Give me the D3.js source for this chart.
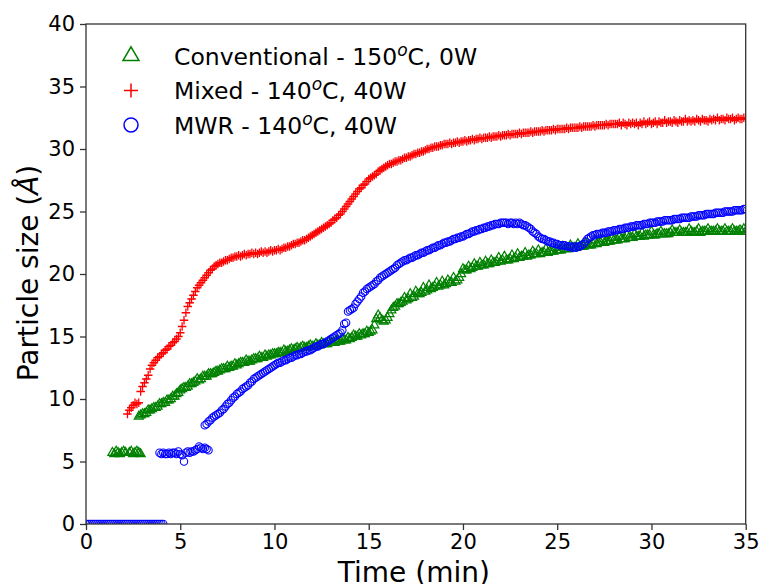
<!DOCTYPE html>
<html>
<head>
<meta charset="utf-8">
<script src="https://cdn.jsdelivr.net/npm/d3@7"></script>
<style>
  html, body { margin: 0; padding: 0; background: #fff; }
  svg { display: block; font-family: "DejaVu Sans", sans-serif; }
</style>
</head>
<body>
<svg id="chart" width="759" height="584"></svg>
<script>
const xTicks = [0, 5, 10, 15, 20, 25, 30, 35];
const yTicks = [0, 5, 10, 15, 20, 25, 30, 35, 40];
const seriesNames = ["Conventional - 150", "Mixed - 140", "MWR - 140"];
const seriesSuffix = ["C, 0W", "C, 40W", "C, 40W"];
const sampleStep = 0.1; // minutes between measurements

// Conventional - 150 C, 0 W (green triangles)
const convLowStart = 1.4;
const convLowSize = [5.7, 5.6, 5.8, 5.7, 5.6, 5.7, 5.8, 5.7];
const convLow2Start = 2.3;
const convLow2Size = [5.7, 5.8, 5.6, 5.7, 5.8, 5.7, 5.6];
const convStart = 2.8;
const convSize = [
  8.6, 8.7, 8.8, 8.8, 8.9, 9.1, 9.1, 9.2, 9.3, 9.3,
  9.4, 9.6, 9.6, 9.7, 9.7, 9.9, 9.9, 10.0, 10.2, 10.2,
  10.4, 10.5, 10.7, 10.8, 10.9, 10.9, 11.0, 11.2, 11.2, 11.3,
  11.4, 11.6, 11.5, 11.6, 11.8, 11.8, 11.8, 12.0, 12.0, 12.0,
  12.1, 12.2, 12.2, 12.3, 12.4, 12.4, 12.4, 12.6, 12.5, 12.6,
  12.6, 12.8, 12.7, 12.8, 12.9, 12.9, 12.9, 13.1, 13.0, 13.0,
  13.1, 13.2, 13.2, 13.2, 13.4, 13.3, 13.3, 13.5, 13.4, 13.5,
  13.5, 13.6, 13.6, 13.6, 13.7, 13.7, 13.7, 13.9, 13.8, 13.8,
  13.9, 14.0, 13.9, 14.0, 14.1, 14.0, 14.1, 14.2, 14.1, 14.1,
  14.2, 14.3, 14.2, 14.2, 14.4, 14.3, 14.3, 14.5, 14.4, 14.4,
  14.4, 14.6, 14.5, 14.5, 14.5, 14.7, 14.6, 14.6, 14.8, 14.7,
  14.7, 14.9, 14.8, 14.9, 15.1, 15.0, 15.0, 15.2, 15.1, 15.2,
  15.2, 15.4, 15.3, 15.4, 15.5, 15.9, 16.4, 16.7, 16.5, 16.3,
  16.2, 16.3, 16.5, 16.8, 17.1, 17.3, 17.4, 17.6, 17.6, 17.7,
  17.8, 18.1, 17.9, 18.0, 18.4, 18.1, 18.2, 18.6, 18.4, 18.4,
  18.5, 18.9, 18.6, 18.7, 19.1, 18.8, 18.9, 19.0, 19.3, 19.0,
  19.1, 19.4, 19.1, 19.2, 19.5, 19.3, 19.3, 19.7, 19.4, 19.5,
  19.7, 20.0, 20.4, 20.3, 20.3, 20.6, 20.4, 20.5, 20.8, 20.6,
  20.6, 20.9, 20.7, 20.7, 21.0, 20.8, 20.8, 21.1, 20.9, 20.9,
  21.0, 21.3, 21.0, 21.1, 21.4, 21.1, 21.1, 21.2, 21.5, 21.2,
  21.3, 21.6, 21.3, 21.4, 21.4, 21.7, 21.4, 21.5, 21.5, 21.8,
  21.6, 21.6, 21.9, 21.6, 21.7, 21.7, 22.0, 21.7, 21.8, 21.8,
  21.8, 22.1, 21.9, 21.9, 21.9, 22.2, 22.0, 22.0, 22.0, 22.3,
  22.1, 22.1, 22.1, 22.4, 22.2, 22.2, 22.2, 22.5, 22.3, 22.3,
  22.3, 22.4, 22.7, 22.4, 22.5, 22.5, 22.8, 22.5, 22.6, 22.6,
  22.6, 22.9, 22.7, 22.7, 22.7, 23.0, 22.8, 22.8, 22.8, 23.1,
  22.9, 22.9, 22.9, 23.2, 23.0, 23.0, 23.0, 23.3, 23.0, 23.1,
  23.1, 23.1, 23.4, 23.1, 23.1, 23.2, 23.2, 23.4, 23.2, 23.2,
  23.2, 23.2, 23.3, 23.5, 23.3, 23.3, 23.3, 23.5, 23.3, 23.3,
  23.3, 23.3, 23.6, 23.4, 23.3, 23.3, 23.4, 23.6, 23.3, 23.4,
  23.4, 23.4, 23.6, 23.4, 23.4, 23.4, 23.4, 23.6, 23.4, 23.4,
  23.4, 23.6, 23.4, 23.4, 23.4, 23.6, 23.4, 23.4, 23.4, 23.5,
  23.4, 23.6, 23.4
];

// Mixed - 140 C, 40 W (red plus)
const mixedStart = 2.2;
const mixedSize = [
  8.8, 9.1, 9.3, 9.5, 9.7, 9.6, 9.7, 10.6, 11.0, 11.3,
  11.6, 11.9, 12.4, 12.7, 12.9, 13.1, 13.3, 13.4, 13.6, 13.7,
  13.9, 14.0, 14.2, 14.3, 14.5, 14.6, 14.8, 15.0, 15.3, 15.8,
  16.3, 16.9, 17.4, 17.7, 18.0, 18.3, 18.6, 18.9, 19.1, 19.3,
  19.5, 19.7, 19.9, 20.1, 20.3, 20.4, 20.6, 20.7, 20.8, 20.9,
  20.9, 21.0, 21.1, 21.1, 21.2, 21.3, 21.3, 21.4, 21.4, 21.5,
  21.4, 21.5, 21.6, 21.5, 21.6, 21.6, 21.7, 21.6, 21.7, 21.6,
  21.7, 21.8, 21.7, 21.8, 21.7, 21.8, 21.9, 21.8, 21.9, 21.9,
  22.0, 21.9, 22.0, 22.1, 22.1, 22.2, 22.2, 22.3, 22.4, 22.4,
  22.5, 22.5, 22.6, 22.7, 22.7, 22.8, 22.9, 23.0, 23.1, 23.2,
  23.3, 23.4, 23.5, 23.6, 23.7, 23.8, 23.9, 24.0, 24.1, 24.3,
  24.4, 24.5, 24.7, 24.8, 25.0, 25.2, 25.4, 25.6, 25.8, 26.0,
  26.2, 26.4, 26.6, 26.8, 26.9, 27.1, 27.2, 27.4, 27.6, 27.7,
  27.8, 27.9, 28.0, 28.2, 28.3, 28.4, 28.5, 28.6, 28.7, 28.8,
  28.8, 28.9, 29.0, 29.0, 29.1, 29.1, 29.2, 29.3, 29.3, 29.4,
  29.4, 29.5, 29.6, 29.6, 29.7, 29.7, 29.8, 29.8, 29.9, 30.0,
  30.0, 30.1, 30.1, 30.2, 30.2, 30.2, 30.3, 30.3, 30.4, 30.4,
  30.4, 30.5, 30.4, 30.5, 30.5, 30.6, 30.5, 30.6, 30.6, 30.7,
  30.6, 30.7, 30.7, 30.8, 30.7, 30.8, 30.8, 30.9, 30.8, 30.9,
  30.9, 30.9, 31.0, 30.9, 31.0, 31.0, 31.0, 31.1, 31.0, 31.1,
  31.1, 31.1, 31.2, 31.1, 31.2, 31.2, 31.2, 31.2, 31.3, 31.2,
  31.3, 31.3, 31.3, 31.3, 31.4, 31.3, 31.4, 31.4, 31.4, 31.4,
  31.5, 31.4, 31.5, 31.5, 31.5, 31.5, 31.6, 31.5, 31.6, 31.6,
  31.6, 31.6, 31.6, 31.7, 31.6, 31.7, 31.7, 31.7, 31.7, 31.7,
  31.8, 31.7, 31.8, 31.8, 31.8, 31.8, 31.8, 31.9, 31.8, 31.9,
  31.9, 31.9, 31.9, 31.9, 32.0, 31.9, 32.0, 32.0, 32.0, 32.0,
  32.0, 32.1, 31.9, 32.1, 32.0, 31.9, 32.1, 32.0, 32.1, 32.0,
  32.1, 31.9, 32.1, 32.0, 32.2, 32.0, 32.1, 32.2, 32.0, 32.1,
  32.2, 32.0, 32.2, 32.1, 32.1, 32.3, 32.1, 32.2, 32.2, 32.1,
  32.3, 32.2, 32.1, 32.3, 32.2, 32.2, 32.4, 32.2, 32.3, 32.2,
  32.3, 32.2, 32.4, 32.3, 32.2, 32.4, 32.3, 32.3, 32.2, 32.4,
  32.3, 32.4, 32.3, 32.5, 32.3, 32.4, 32.4, 32.3, 32.5, 32.4,
  32.4, 32.5, 32.3, 32.4, 32.5, 32.4, 32.4, 32.5, 32.4
];

// MWR - 140 C, 40 W (blue circles)
const mwrZeroStart = 0.0;
const mwrZeroSize = [
  0, 0, 0, 0, 0, 0, 0, 0, 0, 0,
  0, 0, 0, 0, 0, 0, 0, 0, 0, 0,
  0, 0, 0, 0, 0, 0, 0, 0, 0, 0,
  0, 0, 0, 0, 0, 0, 0, 0, 0, 0,
  0, 0
];
const mwrLowStart = 3.9;
const mwrLowSize = [
  5.7, 5.6, 5.7, 5.6, 5.6, 5.7, 5.6, 5.7, 5.7, 5.6,
  5.8, 5.6, 5.5, 5.0, 5.7, 5.8, 5.7, 5.8, 5.8, 5.9,
  6.0, 6.2, 6.1, 6.0, 6.1, 6.0, 5.9
];
const mwrStart = 6.3;
const mwrSize = [
  7.9, 8.0, 8.2, 8.3, 8.5, 8.6, 8.7, 8.8, 8.9, 9.1,
  9.2, 9.4, 9.6, 9.7, 9.9, 10.1, 10.2, 10.4, 10.5, 10.6,
  10.8, 10.9, 11.0, 11.1, 11.3, 11.4, 11.6, 11.7, 11.8, 11.9,
  12.0, 12.1, 12.2, 12.3, 12.4, 12.5, 12.6, 12.7, 12.8, 12.9,
  12.9, 13.0, 13.1, 13.1, 13.2, 13.3, 13.3, 13.4, 13.5, 13.5,
  13.6, 13.6, 13.7, 13.8, 13.8, 13.9, 13.9, 14.0, 14.1, 14.2,
  14.2, 14.3, 14.4, 14.4, 14.5, 14.6, 14.7, 14.8, 14.9, 15.0,
  15.1, 15.2, 15.3, 15.5, 16.0, 16.1, 17.0, 17.1, 17.2, 17.3,
  17.6, 17.8, 18.0, 18.2, 18.5, 18.6, 18.8, 18.9, 19.0, 19.1,
  19.2, 19.4, 19.5, 19.7, 19.8, 19.9, 20.0, 20.1, 20.2, 20.3,
  20.4, 20.5, 20.7, 20.8, 20.9, 21.0, 21.1, 21.1, 21.2, 21.3,
  21.3, 21.4, 21.5, 21.5, 21.6, 21.7, 21.7, 21.8, 21.9, 21.9,
  22.0, 22.1, 22.1, 22.2, 22.3, 22.3, 22.4, 22.5, 22.5, 22.6,
  22.6, 22.7, 22.8, 22.8, 22.9, 22.9, 23.0, 23.0, 23.1, 23.2,
  23.2, 23.3, 23.4, 23.4, 23.5, 23.5, 23.6, 23.6, 23.7, 23.7,
  23.8, 23.8, 23.9, 23.9, 24.0, 24.0, 24.0, 24.1, 24.1, 24.1,
  24.1, 24.0, 24.1, 24.1, 24.0, 24.1, 24.0, 24.1, 24.0, 23.9,
  23.9, 23.8, 23.7, 23.6, 23.4, 23.3, 23.2, 23.0, 22.9, 22.8,
  22.8, 22.7, 22.6, 22.6, 22.5, 22.5, 22.4, 22.4, 22.3, 22.3,
  22.3, 22.3, 22.2, 22.2, 22.2, 22.1, 22.2, 22.1, 22.2, 22.2,
  22.3, 22.4, 22.6, 22.8, 22.9, 23.0, 23.1, 23.1, 23.2, 23.2,
  23.2, 23.3, 23.3, 23.3, 23.4, 23.4, 23.4, 23.5, 23.5, 23.5,
  23.6, 23.6, 23.6, 23.7, 23.7, 23.7, 23.8, 23.8, 23.8, 23.9,
  23.9, 23.9, 23.9, 24.0, 24.0, 24.0, 24.1, 24.1, 24.1, 24.1,
  24.2, 24.2, 24.2, 24.2, 24.3, 24.3, 24.3, 24.3, 24.3, 24.4,
  24.4, 24.4, 24.4, 24.5, 24.5, 24.5, 24.5, 24.5, 24.6, 24.6,
  24.6, 24.6, 24.7, 24.7, 24.7, 24.7, 24.8, 24.8, 24.8, 24.8,
  24.8, 24.9, 24.9, 24.9, 24.9, 24.9, 25.0, 25.0, 25.0, 25.0,
  25.0, 25.1, 25.1, 25.1, 25.1, 25.1, 25.2, 25.2
];

// ---------------- build point lists ----------------
function run(t0, sizes) { return sizes.map((v, i) => [+(t0 + i * sampleStep).toFixed(2), v]); }

const convPts  = run(convLowStart, convLowSize).concat(run(convLow2Start, convLow2Size), run(convStart, convSize));
const mixedPts = run(mixedStart, mixedSize);
const mwrPts   = run(mwrZeroStart, mwrZeroSize).concat(run(mwrLowStart, mwrLowSize), run(mwrStart, mwrSize));

// ---------------- drawing ----------------
const svg = d3.select("#chart");
const L = 86, R = 745.7, T = 24, B = 524;
const x = d3.scaleLinear().domain([0, 35]).range([L, R]);
const y = d3.scaleLinear().domain([0, 40]).range([B, T]);

const GREEN = "#008000", RED = "#ff0000", BLUE = "#0000ff";

svg.append("defs").append("clipPath").attr("id", "plotclip")
  .append("rect").attr("x", L).attr("y", T).attr("width", R - L).attr("height", B - T);

const plot = svg.append("g").attr("clip-path", "url(#plotclip)");

function triPath(s) {
  const h = s * Math.sqrt(3) / 2;
  return `M0,${-h * 2 / 3}L${s / 2},${h / 3}L${-s / 2},${h / 3}Z`;
}
function plusPath(s) {
  const a = s / 2;
  return `M${-a},0H${a}M0,${-a}V${a}`;
}

plot.append("g").selectAll("path").data(convPts).join("path")
  .attr("transform", d => `translate(${x(d[0])},${y(d[1])})`)
  .attr("d", triPath(9))
  .attr("fill", "none").attr("stroke", GREEN).attr("stroke-width", 1.2);

plot.append("g").selectAll("path").data(mixedPts).join("path")
  .attr("transform", d => `translate(${x(d[0])},${y(d[1])})`)
  .attr("d", plusPath(8.5))
  .attr("fill", "none").attr("stroke", RED).attr("stroke-width", 1.3);

plot.append("g").selectAll("circle").data(mwrPts).join("circle")
  .attr("cx", d => x(d[0])).attr("cy", d => y(d[1])).attr("r", 3.7)
  .attr("fill", "none").attr("stroke", BLUE).attr("stroke-width", 1.1);

// axes
const xAxis = svg.append("g").attr("transform", `translate(0,${B})`)
  .call(d3.axisBottom(x).tickValues(xTicks).tickSize(6).tickPadding(4).tickFormat(d3.format("d")));
const yAxis = svg.append("g").attr("transform", `translate(${L},0)`)
  .call(d3.axisLeft(y).tickValues(yTicks).tickSize(6).tickPadding(5).tickFormat(d3.format("d")));
[xAxis, yAxis].forEach(g => {
  g.select(".domain").remove();
  g.selectAll(".tick line").attr("stroke", "#333").attr("stroke-width", 1.3);
  g.selectAll(".tick text").attr("fill", "#000")
    .style("font-family", "'DejaVu Sans', sans-serif").style("font-size", "21px");
});

// frame
svg.append("rect").attr("x", L).attr("y", T).attr("width", R - L).attr("height", B - T)
  .attr("fill", "none").attr("stroke", "#333").attr("stroke-width", 1.3);

// axis labels
svg.append("text").attr("x", (L + R) / 2 - 2).attr("y", 582)
  .attr("text-anchor", "middle").style("font-size", "28px").attr("fill", "#000")
  .text("Time (min)");

const yl = svg.append("text").attr("transform", `translate(38,${(T + B) / 2 - 1}) rotate(-90)`)
  .attr("text-anchor", "middle").style("font-size", "28px").attr("fill", "#000");
yl.append("tspan").text("Particle size (");
yl.append("tspan").style("font-style", "italic").text("Å");
yl.append("tspan").text(")");

// legend
const legendMarkers = [
  g => g.append("path").attr("d", triPath(16)).attr("fill", "none").attr("stroke", GREEN).attr("stroke-width", 1.5),
  g => g.append("path").attr("d", plusPath(14)).attr("fill", "none").attr("stroke", RED).attr("stroke-width", 1.5),
  g => g.append("circle").attr("r", 7).attr("fill", "none").attr("stroke", BLUE).attr("stroke-width", 1.5)
];
const legendY = [56, 90.5, 125];
seriesNames.forEach((name, i) => {
  const g = svg.append("g").attr("transform", `translate(131,${legendY[i]})`);
  legendMarkers[i](g);
  const t = svg.append("text").attr("x", 174).attr("y", legendY[i] + 8.5)
    .style("font-size", "23.5px").attr("fill", "#000");
  t.append("tspan").text(name);
  t.append("tspan").attr("dy", -9).style("font-size", "17px").style("font-style", "italic").text("o");
  t.append("tspan").attr("dy", 9).text(seriesSuffix[i]);
});
</script>
</body>
</html>
